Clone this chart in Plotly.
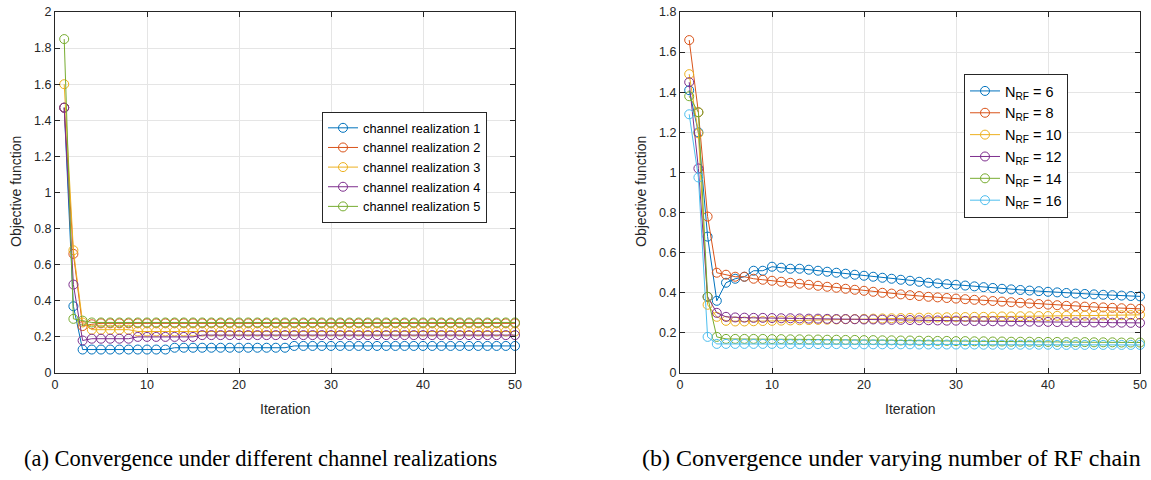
import plotly.graph_objects as go

# ---------------- data ----------------
iterations = list(range(1, 51))

# (a) objective value per iteration for five channel realizations
chan_labels = ["channel realization 1", "channel realization 2", "channel realization 3",
               "channel realization 4", "channel realization 5"]
chan1 = [1.47, 0.37, 0.13, 0.13, 0.13, 0.13, 0.13, 0.13, 0.13, 0.13,
         0.13, 0.13, 0.14, 0.14, 0.14, 0.14, 0.14, 0.14, 0.14, 0.14,
         0.14, 0.14, 0.14, 0.14, 0.14, 0.15, 0.15, 0.15, 0.15, 0.15,
         0.15, 0.15, 0.15, 0.15, 0.15, 0.15, 0.15, 0.15, 0.15, 0.15,
         0.15, 0.15, 0.15, 0.15, 0.15, 0.15, 0.15, 0.15, 0.15, 0.15]
chan2 = [1.47, 0.66, 0.26, 0.27, 0.275, 0.275, 0.275, 0.275, 0.275, 0.275,
         0.275, 0.275, 0.275, 0.275, 0.275, 0.275, 0.275, 0.275, 0.275, 0.275,
         0.275, 0.275, 0.275, 0.275, 0.275, 0.275, 0.275, 0.275, 0.275, 0.275,
         0.275, 0.275, 0.275, 0.275, 0.275, 0.275, 0.275, 0.275, 0.275, 0.275,
         0.275, 0.275, 0.275, 0.275, 0.275, 0.275, 0.275, 0.275, 0.275, 0.275]
chan3 = [1.60, 0.68, 0.28, 0.24, 0.24, 0.24, 0.24, 0.24, 0.23, 0.23,
         0.23, 0.23, 0.23, 0.23, 0.23, 0.23, 0.23, 0.23, 0.23, 0.23,
         0.23, 0.23, 0.23, 0.23, 0.23, 0.23, 0.23, 0.23, 0.23, 0.23,
         0.23, 0.23, 0.23, 0.23, 0.23, 0.23, 0.23, 0.23, 0.23, 0.23,
         0.23, 0.23, 0.23, 0.23, 0.23, 0.23, 0.23, 0.23, 0.23, 0.23]
chan4 = [1.47, 0.49, 0.18, 0.19, 0.19, 0.19, 0.19, 0.19, 0.20, 0.20,
         0.20, 0.20, 0.20, 0.20, 0.20, 0.21, 0.21, 0.21, 0.21, 0.21,
         0.21, 0.21, 0.21, 0.21, 0.21, 0.21, 0.21, 0.21, 0.21, 0.21,
         0.21, 0.21, 0.21, 0.21, 0.21, 0.21, 0.21, 0.21, 0.21, 0.21,
         0.21, 0.21, 0.21, 0.21, 0.21, 0.21, 0.21, 0.21, 0.21, 0.21]
chan5 = [1.85, 0.30, 0.29, 0.28, 0.28, 0.28, 0.28, 0.28, 0.28, 0.28,
         0.28, 0.28, 0.28, 0.28, 0.28, 0.28, 0.28, 0.28, 0.28, 0.28,
         0.28, 0.28, 0.28, 0.28, 0.28, 0.28, 0.28, 0.28, 0.28, 0.28,
         0.28, 0.28, 0.28, 0.28, 0.28, 0.28, 0.28, 0.28, 0.28, 0.28,
         0.28, 0.28, 0.28, 0.28, 0.28, 0.28, 0.28, 0.28, 0.28, 0.28]

# (b) objective value per iteration for different numbers of RF chains
rf_labels = ["N<sub>RF</sub> = 6", "N<sub>RF</sub> = 8", "N<sub>RF</sub> = 10",
             "N<sub>RF</sub> = 12", "N<sub>RF</sub> = 14", "N<sub>RF</sub> = 16"]
rf6 = [1.41, 1.20, 0.68, 0.36, 0.45, 0.47, 0.48, 0.51, 0.51, 0.53,
       0.525, 0.52, 0.52, 0.515, 0.51, 0.505, 0.50, 0.495, 0.49, 0.485,
       0.48, 0.475, 0.47, 0.465, 0.46, 0.455, 0.45, 0.447, 0.443, 0.44,
       0.436, 0.432, 0.428, 0.424, 0.42, 0.417, 0.414, 0.411, 0.408, 0.405,
       0.402, 0.399, 0.396, 0.394, 0.392, 0.39, 0.388, 0.386, 0.384, 0.382]
rf8 = [1.66, 1.30, 0.78, 0.50, 0.49, 0.48, 0.48, 0.47, 0.465, 0.46,
       0.455, 0.45, 0.445, 0.44, 0.435, 0.43, 0.425, 0.42, 0.415, 0.41,
       0.405, 0.40, 0.396, 0.392, 0.388, 0.384, 0.38, 0.377, 0.374, 0.371,
       0.368, 0.365, 0.362, 0.359, 0.356, 0.353, 0.35, 0.347, 0.344, 0.341,
       0.338, 0.335, 0.333, 0.331, 0.329, 0.327, 0.325, 0.323, 0.321, 0.32]
rf10 = [1.49, 1.195, 0.34, 0.28, 0.26, 0.257, 0.257, 0.258, 0.259, 0.26,
        0.261, 0.262, 0.263, 0.264, 0.265, 0.266, 0.267, 0.268, 0.269, 0.27,
        0.271, 0.272, 0.273, 0.274, 0.275, 0.276, 0.276, 0.277, 0.278, 0.278,
        0.279, 0.28, 0.28, 0.281, 0.282, 0.282, 0.283, 0.283, 0.284, 0.284,
        0.285, 0.285, 0.286, 0.286, 0.287, 0.287, 0.288, 0.288, 0.289, 0.29]
rf12 = [1.45, 1.02, 0.38, 0.30, 0.28, 0.277, 0.276, 0.275, 0.275, 0.274,
        0.273, 0.273, 0.272, 0.271, 0.271, 0.27, 0.269, 0.269, 0.268, 0.267,
        0.267, 0.266, 0.265, 0.265, 0.264, 0.263, 0.263, 0.262, 0.261, 0.261,
        0.26, 0.259, 0.259, 0.258, 0.257, 0.257, 0.256, 0.256, 0.255, 0.255,
        0.254, 0.254, 0.253, 0.253, 0.252, 0.252, 0.251, 0.251, 0.25, 0.25]
rf14 = [1.38, 1.30, 0.38, 0.18, 0.17, 0.17, 0.17, 0.17, 0.17, 0.169,
        0.169, 0.168, 0.168, 0.167, 0.167, 0.166, 0.166, 0.165, 0.165, 0.164,
        0.164, 0.163, 0.163, 0.162, 0.162, 0.161, 0.161, 0.16, 0.16, 0.159,
        0.159, 0.158, 0.158, 0.157, 0.157, 0.156, 0.156, 0.156, 0.155, 0.155,
        0.155, 0.154, 0.154, 0.154, 0.153, 0.153, 0.153, 0.152, 0.152, 0.152]
rf16 = [1.29, 0.975, 0.18, 0.145, 0.145, 0.145, 0.145, 0.145, 0.145, 0.145,
        0.145, 0.144, 0.144, 0.144, 0.144, 0.144, 0.144, 0.144, 0.143, 0.143,
        0.143, 0.143, 0.143, 0.143, 0.143, 0.142, 0.142, 0.142, 0.142, 0.142,
        0.142, 0.142, 0.141, 0.141, 0.141, 0.141, 0.141, 0.141, 0.141, 0.141,
        0.14, 0.14, 0.14, 0.14, 0.14, 0.14, 0.14, 0.14, 0.14, 0.14]

x_ticks = [0, 10, 20, 30, 40, 50]
y_ticks_a = [0, 0.2, 0.4, 0.6, 0.8, 1, 1.2, 1.4, 1.6, 1.8, 2]
y_ticks_b = [0, 0.2, 0.4, 0.6, 0.8, 1, 1.2, 1.4, 1.6, 1.8]

captions = ["(a) Convergence under different channel realizations",
            "(b) Convergence under varying number of RF chain"]

# ---------------- styling ----------------
COLORS = ["#0072BD", "#D95319", "#EDB120", "#7E2F8E", "#77AC30", "#4DBEEE"]
W, H = 1151, 480
SANS = "Liberation Sans, Arial, sans-serif"
AX_FONT = dict(family=SANS, size=12.5, color="#262626")


def px_x(p):
    return p / W


def px_y(p):
    return 1 - p / H


fig = go.Figure()

for i, (name, ys) in enumerate(zip(chan_labels, [chan1, chan2, chan3, chan4, chan5])):
    fig.add_trace(go.Scatter(
        x=iterations, y=ys, name=name, mode="lines+markers",
        line=dict(color=COLORS[i], width=1),
        marker=dict(symbol="circle-open", size=9, color=COLORS[i], line=dict(width=1)),
        cliponaxis=False, xaxis="x", yaxis="y", legend="legend"))

for i, (name, ys) in enumerate(zip(rf_labels, [rf6, rf8, rf10, rf12, rf14, rf16])):
    fig.add_trace(go.Scatter(
        x=iterations, y=ys, name=name, mode="lines+markers",
        line=dict(color=COLORS[i], width=1),
        marker=dict(symbol="circle-open", size=9, color=COLORS[i], line=dict(width=1)),
        cliponaxis=False, xaxis="x2", yaxis="y2", legend="legend2"))

axis_common = dict(
    showgrid=True, gridcolor="#e5e5e5", gridwidth=1,
    showline=True, linecolor="#262626", linewidth=1, mirror="ticks",
    ticks="inside", ticklen=5, tickcolor="#262626", tickwidth=1,
    tickfont=AX_FONT, zeroline=False, automargin=False,
)

fig.update_layout(
    width=W, height=H,
    margin=dict(l=0, r=0, t=0, b=0),
    paper_bgcolor="white", plot_bgcolor="white",
    font=AX_FONT,
    xaxis=dict(domain=[px_x(55), px_x(515)], range=[0, 50], tickvals=x_ticks,
               anchor="y", **axis_common),
    yaxis=dict(domain=[px_y(373), px_y(12)], range=[0, 2], tickvals=y_ticks_a,
               anchor="x", **axis_common),
    xaxis2=dict(domain=[px_x(680), px_x(1140)], range=[0, 50], tickvals=x_ticks,
                anchor="y2", **axis_common),
    yaxis2=dict(domain=[px_y(373), px_y(12)], range=[0, 1.8], tickvals=y_ticks_b,
                anchor="x2", **axis_common),
    legend=dict(x=px_x(322), y=px_y(112), xanchor="left", yanchor="top",
                bgcolor="white", bordercolor="#262626", borderwidth=1,
                font=dict(family=SANS, size=12.8, color="#000"),
                tracegroupgap=0, itemwidth=30),
    legend2=dict(x=px_x(964), y=px_y(74), xanchor="left", yanchor="top",
                 bgcolor="white", bordercolor="#262626", borderwidth=1,
                 font=dict(family=SANS, size=14.5, color="#000"),
                 tracegroupgap=0, itemwidth=30),
    showlegend=True,
)

# axis titles
for cx in (285, 910):
    fig.add_annotation(text="Iteration", x=px_x(cx), y=px_y(409), xref="paper", yref="paper",
                       showarrow=False, xanchor="center", yanchor="middle",
                       font=dict(family=SANS, size=14, color="#262626"))
for cx in (16, 641):
    fig.add_annotation(text="Objective function", x=px_x(cx), y=px_y(192), xref="paper", yref="paper",
                       showarrow=False, textangle=-90, xanchor="center", yanchor="middle",
                       font=dict(family=SANS, size=14, color="#262626"))

# sub-figure captions
for text, lx, fs in zip(captions, (22, 640), (22.5, 24)):
    fig.add_annotation(text=text, x=px_x(lx), y=px_y(458), xref="paper", yref="paper",
                       showarrow=False, xanchor="left", yanchor="middle",
                       font=dict(family="Liberation Serif, Times New Roman, serif", size=fs, color="#000"))

fig.write_html("out.html")
